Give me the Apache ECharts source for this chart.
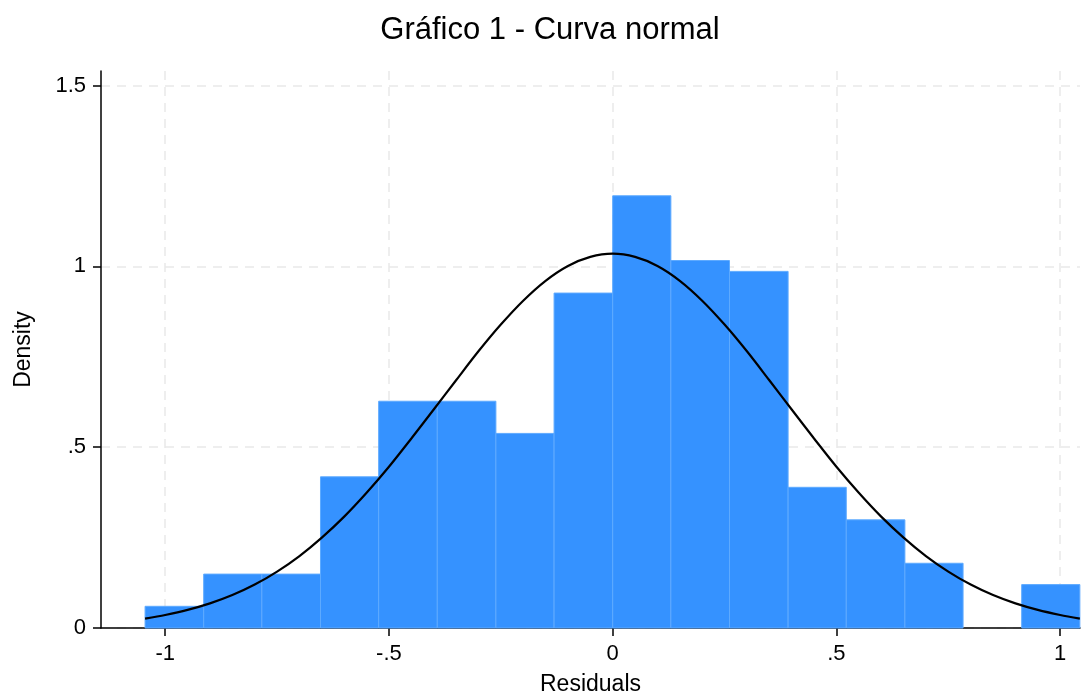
<!DOCTYPE html>
<html>
<head>
<meta charset="utf-8">
<title>Gráfico 1 - Curva normal</title>
<script src="https://cdn.jsdelivr.net/npm/echarts@6/dist/echarts.min.js"></script>
<style>
  html, body { margin: 0; padding: 0; background: #fff; }
  #chart { width: 1081px; height: 694px; }
</style>
</head>
<body>
<div id="chart"></div>
<script>
// Histogram of residuals: bin edges and density of each bin
const binEdges = [-1.045, -0.914, -0.784, -0.653, -0.523, -0.392, -0.261, -0.131,
                  0.000, 0.130, 0.261, 0.392, 0.522, 0.653, 0.783, 0.914, 1.044];
const binDensity = [0.060, 0.149, 0.149, 0.418, 0.627, 0.627, 0.538, 0.926,
                    1.195, 1.016, 0.986, 0.389, 0.299, 0.179, 0.000, 0.120];

// Overlaid normal density curve (x, density)
const curveX = [-1.045, -1.00, -0.95, -0.90, -0.85, -0.80, -0.75, -0.70, -0.65, -0.60,
                -0.55, -0.50, -0.45, -0.40, -0.35, -0.30, -0.25, -0.20, -0.15, -0.10,
                -0.05, 0.00, 0.05, 0.10, 0.15, 0.20, 0.25, 0.30, 0.35, 0.40,
                0.45, 0.50, 0.55, 0.60, 0.65, 0.70, 0.75, 0.80, 0.85, 0.90,
                0.95, 1.00, 1.044];
const curveY = [0.026, 0.036, 0.050, 0.068, 0.091, 0.120, 0.156, 0.199, 0.250, 0.308,
                0.374, 0.446, 0.524, 0.604, 0.685, 0.765, 0.839, 0.905, 0.960, 1.001,
                1.026, 1.035, 1.026, 1.001, 0.960, 0.905, 0.839, 0.765, 0.685, 0.604,
                0.524, 0.446, 0.374, 0.308, 0.250, 0.199, 0.156, 0.120, 0.091, 0.068,
                0.050, 0.036, 0.026];

// Axis ticks
const xTicks = [-1, -0.5, 0, 0.5, 1];
const yTicks = [0, 0.5, 1, 1.5];

const FONT = '"Liberation Sans", Arial, Helvetica, sans-serif';
const fmt = v => String(v).replace('0.', '.');

const histData = binDensity.map((d, i) => [binEdges[i], binEdges[i + 1], d]);
const curveData = curveX.map((x, i) => [x, curveY[i]]);

const gridLine = { show: true, lineStyle: { color: '#e9e9e9', width: 1.5, type: [9, 7] } };

const chart = echarts.init(document.getElementById('chart'), null, { renderer: 'canvas' });
chart.setOption({
  animation: false,
  backgroundColor: '#ffffff',
  graphic: [{
    type: 'text',
    x: 550, y: 30,
    style: {
      text: 'Gráfico 1 - Curva normal',
      font: '31px ' + FONT,
      fill: '#000',
      textAlign: 'center',
      textVerticalAlign: 'middle'
    }
  }],
  grid: { left: 101, right: 1, top: 71, bottom: 66, containLabel: false, outerBoundsMode: 'none' },
  xAxis: {
    type: 'value',
    min: -1.1435,
    max: 1.0443,
    name: 'Residuals',
    nameLocation: 'middle',
    nameGap: 45,
    nameTextStyle: { fontFamily: FONT, fontSize: 23, color: '#000' },
    axisLine: { show: true, onZero: false, lineStyle: { color: '#000', width: 1.5 } },
    axisTick: { show: true, length: 8, customValues: xTicks, lineStyle: { color: '#000', width: 1.5 } },
    axisLabel: { customValues: xTicks, formatter: fmt, margin: 15, fontFamily: FONT, fontSize: 22, color: '#000' },
    splitLine: gridLine
  },
  yAxis: {
    type: 'value',
    min: 0,
    max: 1.54,
    name: 'Density',
    nameLocation: 'middle',
    nameGap: 66,
    nameRotate: 90,
    nameTextStyle: { fontFamily: FONT, fontSize: 23, color: '#000' },
    axisLine: { show: true, onZero: false, lineStyle: { color: '#000', width: 1.5 } },
    axisTick: { show: true, length: 8, customValues: yTicks, lineStyle: { color: '#000', width: 1.5 } },
    axisLabel: { customValues: yTicks, formatter: fmt, margin: 15, fontFamily: FONT, fontSize: 22, color: '#000' },
    splitLine: gridLine
  },
  series: [
    {
      type: 'custom',
      name: 'Histogram',
      data: histData,
      encode: { x: [0, 1], y: 2 },
      renderItem: (params, api) => {
        const x0 = api.value(0), x1 = api.value(1), d = api.value(2);
        if (d <= 0) return null;
        const p0 = api.coord([x0, 0]);
        const p1 = api.coord([x1, d]);
        return {
          type: 'rect',
          shape: { x: p0[0], y: p1[1], width: p1[0] - p0[0], height: p0[1] - p1[1] },
          style: { fill: '#3592ff', stroke: '#5eaaff', lineWidth: 1 }
        };
      },
      z: 2
    },
    {
      type: 'line',
      name: 'Normal',
      data: curveData,
      smooth: 0.3,
      showSymbol: false,
      symbol: 'none',
      lineStyle: { color: '#000', width: 2.2 },
      z: 3
    }
  ]
});
</script>
</body>
</html>
